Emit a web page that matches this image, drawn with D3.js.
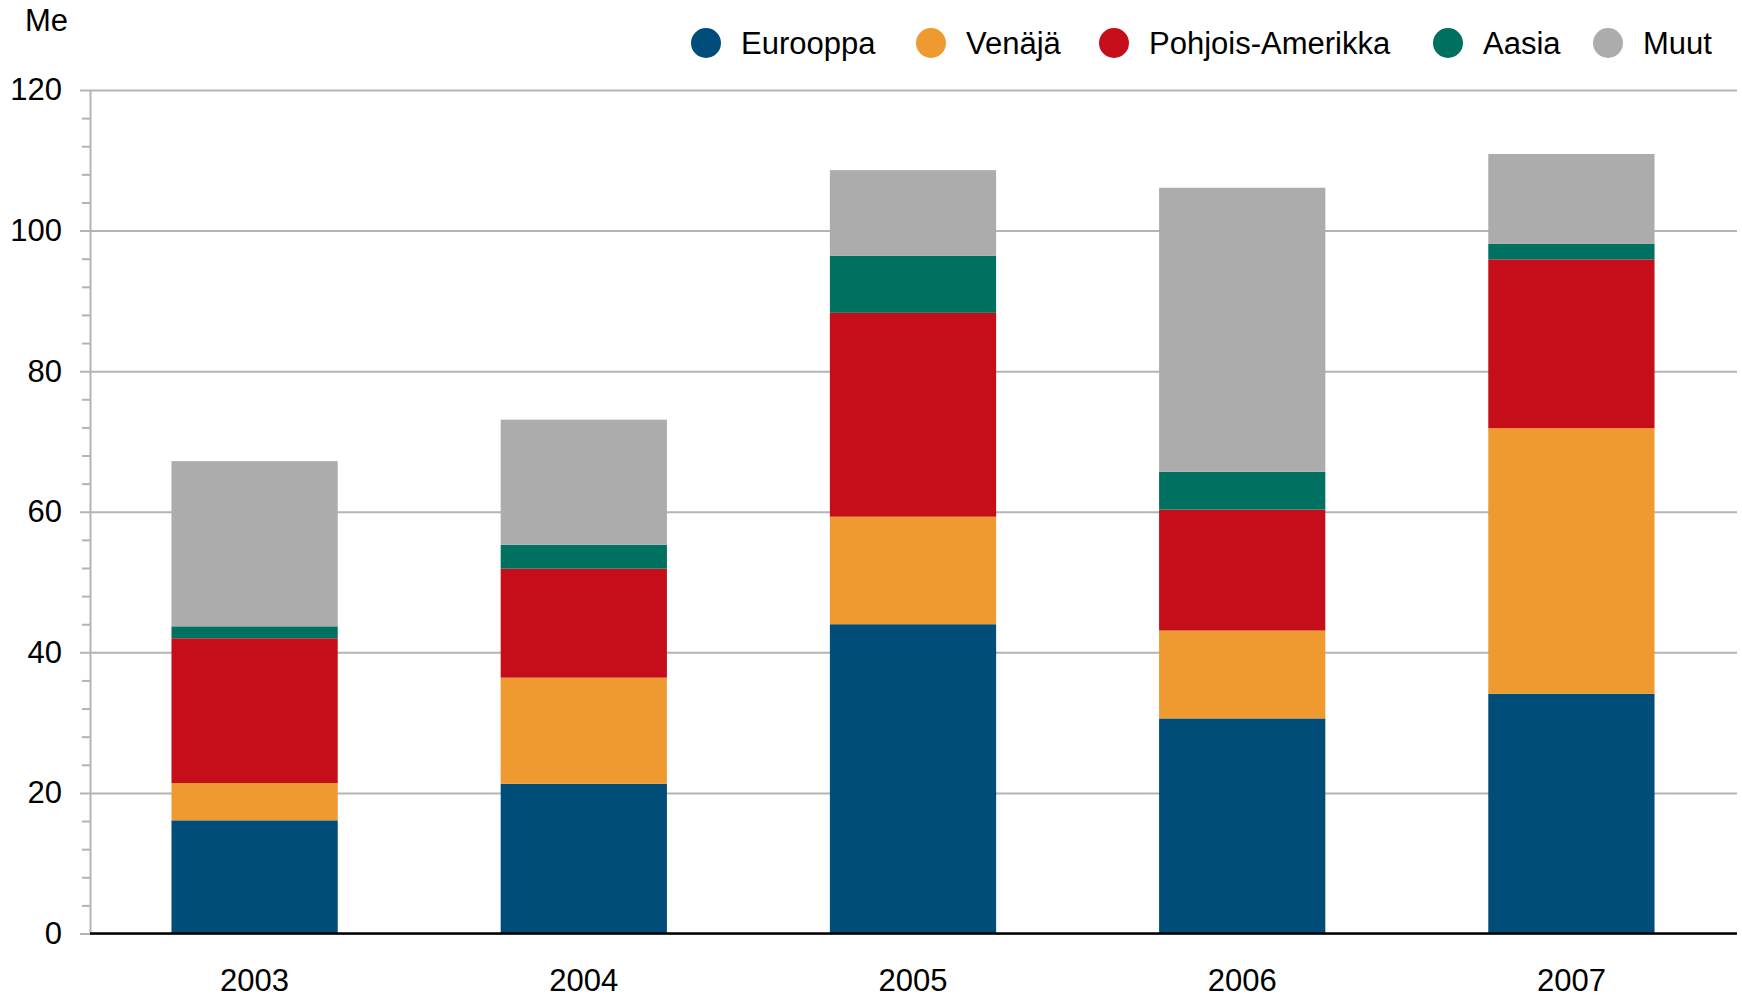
<!DOCTYPE html>
<html>
<head>
<meta charset="utf-8">
<script src="https://cdn.jsdelivr.net/npm/d3@7"></script>
<style>
  html, body { margin: 0; padding: 0; background: #fff; }
  svg text { font-family: "Liberation Sans", Arial, Helvetica, sans-serif; fill: #000; }
</style>
</head>
<body>
<div id="chart"></div>
<script>
const years = ['2003', '2004', '2005', '2006', '2007'];
const eurooppa = [16.1, 21.3, 44.0, 30.6, 34.1];
const venaja = [5.3, 15.1, 15.3, 12.5, 37.8];
const pohjoisAmerikka = [20.6, 15.5, 29.0, 17.2, 24.0];
const aasia = [1.7, 3.4, 8.1, 5.4, 2.2];
const muut = [23.5, 17.8, 12.2, 40.4, 12.8];

const seriesNames = ['Eurooppa', 'Venäjä', 'Pohjois-Amerikka', 'Aasia', 'Muut'];
const seriesValues = [eurooppa, venaja, pohjoisAmerikka, aasia, muut];
const seriesColors = ['#004d7a', '#ee9a30', '#c50e19', '#007060', '#acacac'];
const yTicks = [0, 20, 40, 60, 80, 100, 120];
const yUnit = 'Me';

const W = 1742, H = 997;
const plotL = 90, plotR = 1737, plotT = 90, plotB = 933.5;
// legend marker centres, as placed in the original
const legendX = [706, 931, 1114, 1448, 1608];

const svg = d3.select('#chart').append('svg').attr('width', W).attr('height', H);

// table for the stack
const rows = years.map((yr, i) => {
  const r = { year: yr };
  seriesNames.forEach((s, k) => { r[s] = seriesValues[k][i]; });
  return r;
});
const stacked = d3.stack().keys(seriesNames)(rows);

const x = d3.scaleBand().domain(years).range([plotL, plotR - 1])
  .paddingInner(0.495).paddingOuter(0.2475);
const y = d3.scaleLinear().domain([0, 120]).range([plotB, plotT]);
const color = d3.scaleOrdinal().domain(seriesNames).range(seriesColors);

// minor ticks
const minor = d3.range(0, 121, 4).filter(v => v % 20 !== 0);
svg.append('g').attr('transform', `translate(${plotL},0)`)
  .call(d3.axisLeft(y).tickValues(minor).tickSize(8).tickFormat(''))
  .call(g => g.select('.domain').remove())
  .call(g => g.selectAll('.tick line').attr('stroke', '#b4b4b4').attr('stroke-width', 2));

// major ticks + gridlines
svg.append('g').attr('class', 'y-axis').attr('transform', `translate(${plotL},0)`)
  .call(d3.axisLeft(y).tickValues(yTicks).tickSize(10).tickSizeOuter(0).tickPadding(18))
  .call(g => g.select('.domain').attr('stroke', '#b4b4b4').attr('stroke-width', 2))
  .call(g => g.selectAll('.tick line').attr('stroke', '#b4b4b4').attr('stroke-width', 2)
    .attr('x1', -10).attr('x2', plotR - plotL))
  .call(g => g.selectAll('.tick text').attr('font-size', 31).attr('fill', '#000'));

// bars
svg.append('g').selectAll('g')
  .data(stacked)
  .join('g')
  .attr('fill', d => color(d.key))
  .selectAll('rect')
  .data(d => d)
  .join('rect')
  .attr('x', d => x(d.data.year))
  .attr('width', x.bandwidth())
  .attr('y', d => y(d[1]))
  .attr('height', d => y(d[0]) - y(d[1]));

// baseline
svg.append('line')
  .attr('x1', plotL).attr('x2', plotR)
  .attr('y1', y(0)).attr('y2', y(0))
  .attr('stroke', '#000').attr('stroke-width', 2.5);

// x labels
svg.append('g').selectAll('text')
  .data(years)
  .join('text')
  .attr('x', d => x(d) + x.bandwidth() / 2)
  .attr('y', 991)
  .attr('text-anchor', 'middle')
  .attr('font-size', 31)
  .text(d => d);

// unit label
svg.append('text').attr('x', 25).attr('y', 31).attr('font-size', 31).text(yUnit);

// legend
const items = svg.append('g').selectAll('g')
  .data(seriesNames)
  .join('g')
  .attr('transform', (d, i) => `translate(${legendX[i]},0)`);
items.append('circle').attr('r', 15).attr('cy', 43).attr('fill', d => color(d));
items.append('text').attr('x', 35).attr('y', 43).attr('dy', '0.35em')
  .attr('font-size', 31).text(d => d);
</script>
</body>
</html>
